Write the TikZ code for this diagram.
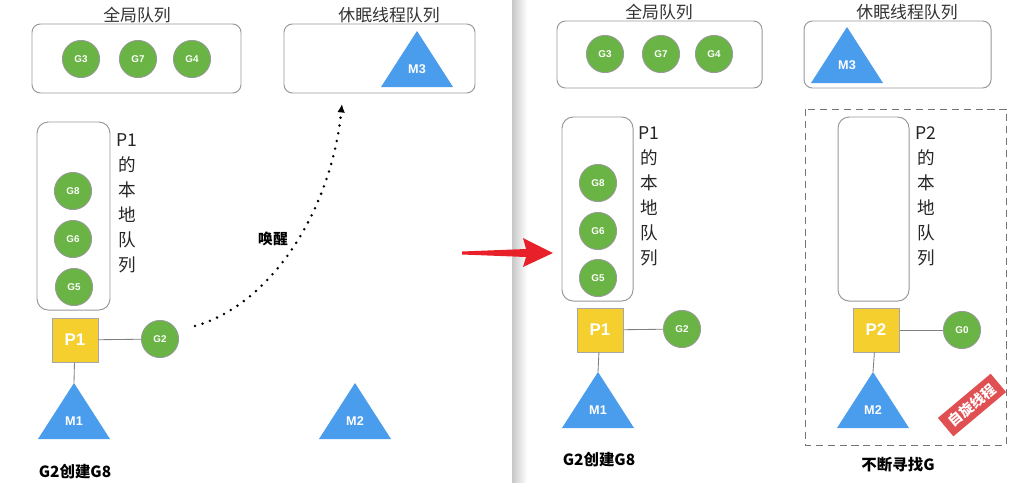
\documentclass[tikz,border=0pt]{standalone}
\usepackage{fontspec}
\setmainfont{Liberation Sans}
\newfontfamily\cjk{Noto Sans CJK SC}
\usepackage{xcolor}
\usetikzlibrary{arrows.meta,positioning,shapes.geometric}

\definecolor{ggreen}{HTML}{69B444}
\definecolor{pyellow}{HTML}{F4CF2E}
\definecolor{mblue}{HTML}{4A9CEC}
\definecolor{wred}{HTML}{E8202A}
\definecolor{spinred}{HTML}{E05052}

\tikzset{
  queuebox/.style={draw=black!40, line width=0.7pt, rounded corners=6pt},
  gnode/.style={circle, fill=ggreen, draw=black!40, line width=0.6pt, minimum size=0.93cm, inner sep=0pt,
    text=white, font=\fontsize{7}{8}\selectfont\bfseries},
  pnode/.style={rectangle, fill=pyellow, draw=black!35, line width=0.7pt, minimum width=1.15cm, minimum height=1.1cm,
    text=white, font=\fontsize{12}{14}\selectfont\bfseries},
  mtext/.style={text=white, font=\fontsize{9}{10}\selectfont\bfseries},
  link/.style={draw=black!50, line width=0.6pt},
  qtitle/.style={anchor=base, font=\cjk\fontsize{12}{14}\selectfont, text=black!80},
  vlabel/.style={align=center, font=\cjk\fontsize{12.5}{17.8}\selectfont, text=black!85},
  caption/.style={font=\cjk\fontsize{11}{13}\selectfont\bfseries},
}

% M thread: name, apex x, apex y, label
\newcommand{\mthread}[4]{%
  \coordinate (#1) at (#2,#3);
  \fill[mblue] (#1) -- ++(-36,56) -- ++(72,0) -- cycle;
  \node[mtext] (#1txt) at (#2,#3+38) {#4};}

\begin{document}
\begin{tikzpicture}[x=0.025cm, y=-0.025cm]
\useasboundingbox (0,0) rectangle (1019,482);
\fill[white] (0,0) rectangle (1019,482);

% divider shadow
\shade[left color=black!22, right color=white] (512,0) rectangle (527,482);

%%% left: before
% global queue
\draw[queuebox] (32,24) rectangle (241,93);
\node[qtitle] (gqtL) at (137,21) {全局队列};
\node[gnode] (g3L) at (81,59) {G3};
\node[gnode] (g7L) at (138,59) {G7};
\node[gnode] (g4L) at (192,59) {G4};

% sleeping threads
\draw[queuebox] (284,24) rectangle (475,93);
\node[qtitle] (sqtL) at (389,21) {休眠线程队列};
\mthread{m3L}{417}{31}{M3}

% local queue of P1
\draw[queuebox, rounded corners=8pt] (37,122) rectangle (110,310);
\node[vlabel] (lqtL) at (127,203) {P1\\的\\本\\地\\队\\列};
\node[gnode] (g8L) at (73,191) {G8};
\node[gnode] (g6L) at (73,239) {G6};
\node[gnode] (g5L) at (74,287) {G5};

\node[pnode] (p1L) at (75,340) {P1};
\node[gnode] (g2L) at (160,339) {G2};
\mthread{m1L}{74}{383}{M1}
\mthread{m2L}{355}{383}{M2}
\draw[link] (p1L) -- (g2L);
\draw[link] (p1L) -- (m1L);

% wake up M3
\coordinate (wakefrom) at (195,326);
\coordinate (waketo) at (342,104);
\draw[line width=2pt, dash pattern=on 0pt off 5.6pt, line cap=round, -{Latex[length=6pt,width=5.5pt]}]
  (wakefrom) .. controls (270,305) and (331,212) .. (waketo);
\node[font=\cjk\fontsize{10.5}{12}\selectfont\bfseries] (wake) at (273,239) {唤醒};

\node[caption] (capL) at (75,472) {G2创建G8};

% red arrow
\fill[wred] (462,251.5) -- (526,249) -- (523,238) -- (553,253) -- (523,267) -- (526,257) -- (462,254.5) -- cycle;

%%% right: after
\draw[queuebox] (557,21) rectangle (762,88);
\node[qtitle] (gqtR) at (659,18) {全局队列};
\node[gnode] (g3R) at (605,54) {G3};
\node[gnode] (g7R) at (661,54) {G7};
\node[gnode] (g4R) at (714,54) {G4};

\draw[queuebox] (804,21) rectangle (991,88);
\node[qtitle] (sqtR) at (907,18) {休眠线程队列};
\mthread{m3R}{847}{27}{M3}

% P1 side
\draw[queuebox, rounded corners=8pt] (562,117) rectangle (633,301);
\node[vlabel] (lqtR) at (649,196) {P1\\的\\本\\地\\队\\列};
\node[gnode] (g8R) at (598,183) {G8};
\node[gnode] (g6R) at (598,231) {G6};
\node[gnode] (g5R) at (598,278) {G5};

\node[pnode] (p1R) at (600,330) {P1};
\node[gnode] (g2R) at (682,329) {G2};
\mthread{m1R}{598}{372}{M1}
\draw[link] (p1R) -- (g2R);
\draw[link] (p1R) -- (m1R);
\node[caption] (capR) at (599,460) {G2创建G8};

% P2 side, spinning
\draw[draw=black!55, line width=0.7pt, dash pattern=on 5pt off 3.5pt] (805,109) rectangle (1006,445);
\draw[queuebox, rounded corners=8pt] (838,117) rectangle (909,301);
\node[vlabel] (lqtP2) at (926,196) {P2\\的\\本\\地\\队\\列};

\node[pnode] (p2R) at (876,330) {P2};
\node[gnode] (g0R) at (962,330) {G0};
\mthread{m2R}{873}{372}{M2}
\draw[link] (p2R) -- (g0R);
\draw[link] (p2R) -- (m2R);

\node[fill=spinred, text=white, rotate=40, minimum width=1.72cm, minimum height=0.6cm, inner sep=1pt,
  font=\cjk\fontsize{10}{12}\selectfont\bfseries] (spin) at (972,405) {自旋线程};
\node[caption] (capP2) at (898,465) {不断寻找G};
\end{tikzpicture}
\end{document}
